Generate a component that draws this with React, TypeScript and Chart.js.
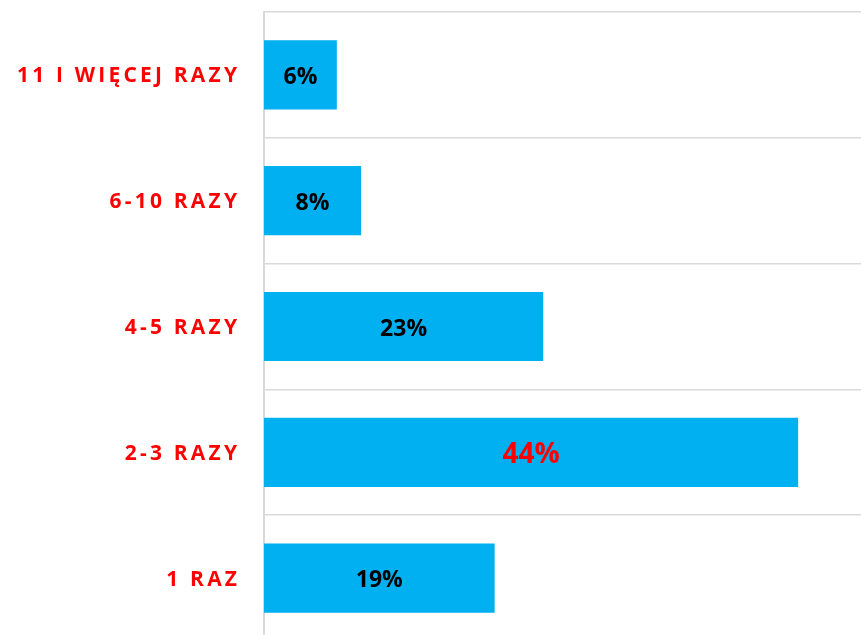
import React, { useEffect, useRef } from 'react';
import { Chart, registerables } from 'chart.js';

Chart.register(...registerables);

const categories = ['11 I WIĘCEJ RAZY', '6-10 RAZY', '4-5 RAZY', '2-3 RAZY', '1 RAZ'];
const values = [6, 8, 23, 44, 19];
const valueLabels = ['6%', '8%', '23%', '44%', '19%'];
const highlightIndex = 3;
const axisMax = 50;

const FONT = '"Open Sans", "DejaVu Sans", sans-serif';

const labelPlugin = {
  id: 'customLabels',
  afterDatasetsDraw(chart: any) {
    const ctx = chart.ctx as CanvasRenderingContext2D;
    const meta = chart.getDatasetMeta(0);
    meta.data.forEach((bar: any, i: number) => {
      const cx = (bar.base + bar.x) / 2;
      const cy = bar.y;
      ctx.save();
      const hl = i === highlightIndex;
      const size = hl ? 28 : 23;
      ctx.font = `bold ${size}px ${FONT}`;
      ctx.fillStyle = hl ? '#FF0000' : '#000000';
      ctx.textAlign = 'center';
      ctx.textBaseline = 'alphabetic';
      ctx.fillText(valueLabels[i], cx, cy + size * 0.36 + 1);
      ctx.restore();

      ctx.save();
      const cs = 21;
      const ls = 3.2;
      ctx.font = `bold ${cs}px ${FONT}`;
      (ctx as any).letterSpacing = `${ls}px`;
      ctx.fillStyle = '#FF0000';
      ctx.textAlign = 'right';
      ctx.textBaseline = 'alphabetic';
      ctx.fillText(categories[i], 237 + ls, cy + cs * 0.357);
      ctx.restore();
    });
  },
};

export default function App() {
  const ref = useRef<HTMLCanvasElement | null>(null);
  useEffect(() => {
    if (!ref.current) return;
    const chart = new Chart(ref.current, {
      type: 'bar',
      data: {
        labels: categories,
        datasets: [
          {
            data: values,
            backgroundColor: '#00B0F0',
            borderWidth: 0,
            barPercentage: 0.55,
            categoryPercentage: 1,
          },
        ],
      },
      options: {
        indexAxis: 'y',
        responsive: false,
        animation: false,
        devicePixelRatio: 1,
        layout: { padding: { top: 12, left: 0, right: 0, bottom: 0 } },
        plugins: {
          legend: { display: false },
          tooltip: { enabled: false },
          title: { display: false },
        },
        scales: {
          x: {
            display: false,
            min: 0,
            max: axisMax,
          },
          y: {
            ticks: { display: false },
            grid: { color: '#D9D9D9', lineWidth: 1.5, drawTicks: false },
            border: { display: true, color: '#D9D9D9', width: 2 },
            afterFit: (scale: any) => {
              scale.width = 264;
            },
          },
        },
      },
      plugins: [labelPlugin],
    });
    return () => chart.destroy();
  }, []);
  return (
    <div style={{ position: 'fixed', left: 0, top: 0, width: 871, height: 641, background: '#fff' }}>
      <canvas ref={ref} width={871} height={641} style={{ width: 871, height: 641, display: 'block' }} />
    </div>
  );
}
